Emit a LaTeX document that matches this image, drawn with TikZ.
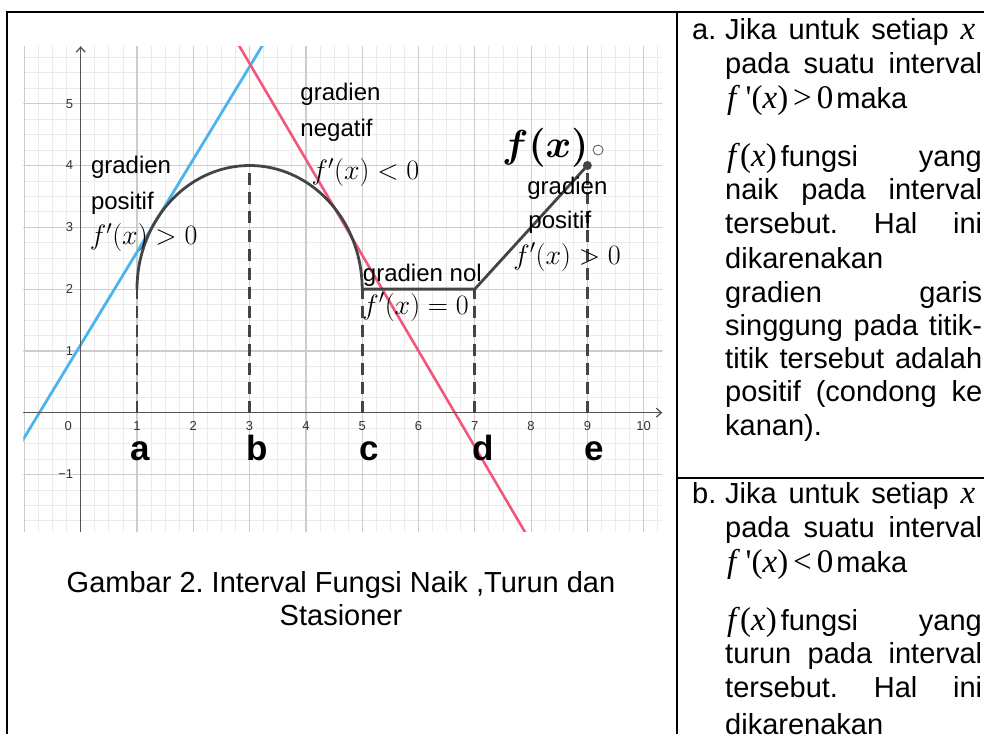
\RequirePackage{fix-cm}
\documentclass[tikz,border=0pt]{standalone}
\usepackage{bm}
\usepackage{fontspec}
\setmainfont{Liberation Sans}
\newfontfamily\tmsfont{Liberation Serif}
\usetikzlibrary{arrows.meta}
\frenchspacing

\definecolor{ggbBlue}{HTML}{4BB4EE}
\definecolor{ggbRed}{HTML}{F2577B}
\definecolor{curveGray}{HTML}{444444}
\definecolor{axisGray}{HTML}{555555}
\definecolor{gridMajorGray}{HTML}{CCCCCC}
\definecolor{gridMinorGray}{HTML}{EBEBEB}

% Word-style equation text (Times)
\newcommand{\wmath}[1]{{\fontsize{33}{34}\selectfont\tmsfont #1}}

\begin{document}
\begin{tikzpicture}[
        x=1pt, y=-1pt,
        tableLine/.style={black, line width=2pt},
        gridMinor/.style={gridMinorGray, line width=0.8pt},
        gridMajor/.style={gridMajorGray, line width=1.2pt},
        axisLine/.style={-{Straight Barb[length=5pt,width=9pt]}, axisGray, line width=1.3pt},
        tanPos/.style={ggbBlue, line width=2.8pt},
        tanNeg/.style={ggbRed, line width=2.6pt},
        curveLine/.style={curveGray, line width=2.8pt, line join=round},
        dropLine/.style={dashed, dash pattern=on 12pt off 7pt, curveGray, line width=2.8pt},
        tickLabel/.style={inner sep=0pt, text=black!80, font=\fontsize{13}{13}\selectfont},
        graphText/.style={anchor=west, inner sep=0pt, font=\fontsize{24}{24}\selectfont},
        graphMath/.style={anchor=west, inner sep=0pt, font=\fontsize{28}{28}\selectfont},
        pointName/.style={anchor=base, inner sep=0pt, font=\fontsize{35}{35}\selectfont\bfseries},
        bodyText/.style={anchor=base west, inner sep=0pt, font=\fontsize{29}{34}\selectfont},
        capText/.style={anchor=base, inner sep=0pt, font=\fontsize{29}{34}\selectfont}
    ]
        \useasboundingbox (0,0) rectangle (984,734);

        % Table frame
        \draw[tableLine] (7,734) -- (7,12) -- (984,12);
        \draw[tableLine] (677,12) -- (677,734);
        \draw[tableLine] (677,478) -- (984,478);

        % Graph in its own units
        \begin{scope}[shift={(80.7,412.7)}, x=56.3pt, y=61.8pt]
            \begin{scope}
                \clip (-1.02,-1.93) rectangle (10.33,5.93);
                \draw[gridMinor, step=0.25] (-1.5,-2.5) grid (11,6.5);
                \draw[gridMajor, step=1] (-1.5,-2.5) grid (11,6.5);

                % Tangent lines
                \draw[tanPos] (-1.2,-0.7) -- (3.4,6.2);
                \draw[tanNeg] (2.7,6.115) -- (8,-2.1);
            \end{scope}

            % Axes
            \draw[axisLine] (-1.02,0) -- (10.33,0);
            \draw[axisLine] (0,-1.93) -- (0,5.93);

            \foreach \i in {1,...,10}
                \node[tickLabel] (xt\i) at (\i,-0.215) {\i};
            \node[tickLabel] (xt0) at (-0.22,-0.215) {0};
            \foreach \i/\n in {-1/m1,1/1,2/2,3/3,4/4,5/5}
                \node[tickLabel, anchor=east] (yt\n) at (-0.13,\i) {\ifnum\i<0 −1\else\i\fi};

            % Function f(x)
            \coordinate (pA) at (1,2);
            \coordinate (pB) at (3,4);
            \coordinate (pC) at (5,2);
            \coordinate (pD) at (7,2);
            \coordinate (pE) at (9,4);
            \draw[curveLine] plot[domain=180:0, samples=80] ({3+2*cos(\x)},{2+2*sin(\x)}) -- (pD) -- (pE);

            % Dashed drops to the x-axis
            \foreach \p/\xv in {pA/1, pB/3, pC/5, pD/7, pE/9}
                \draw[dropLine] (\xv,0) -- (\p);

            \fill[curveGray] (pE) circle (4.5pt);
            \node[draw=axisGray, circle, line width=0.8pt, minimum size=10pt, inner sep=0pt] (fxMark) at (9.19,4.25) {};
            \node[inner sep=0pt, font=\fontsize{39}{39}\selectfont] (fxName) at (8.25,4.28) {$\bm{f(x)}$};

            % Gradient labels
            \node[graphText] (posLa) at (0.18,3.97) {gradien};
            \node[graphText] (posLb) at (0.18,3.39) {positif};
            \node[graphMath] (posLc) at (0.16,2.84) {$f'(x) > 0$};

            \node[graphText] (negLa) at (3.9,5.155) {gradien};
            \node[graphText] (negLb) at (3.9,4.57) {negatif};
            \node[graphMath] (negLc) at (4.1,3.89) {$f'(x) < 0$};

            \node[graphText] (nolLa) at (5.01,2.225) {gradien nol};
            \node[graphMath] (nolLb) at (5.0,1.71) {$f'(x) = 0$};

            \node[graphText] (posRa) at (7.93,3.63) {gradien};
            \node[graphText] (posRb) at (7.95,3.08) {positif};
            \node[graphMath] (posRc) at (7.68,2.52) {$f'(x) > 0$};

            % Interval points
            \foreach \s/\xv in {a/1.06, b/3.13, c/5.12, d/7.15, e/9.12}
                \node[pointName] (lbl\s) at (\xv,-0.77) {\s};
        \end{scope}

        % Caption
        \node[capText] (capA) at (341,592) {Gambar 2. Interval Fungsi Naik ,Turun dan};
        \node[capText] (capB) at (341,625) {Stasioner};

        % Right column, part a
        \node[bodyText] (aItem) at (692,39) {a.};
        \node[bodyText] (aL1) at (725,39) {\makebox[250pt][s]{Jika untuk setiap \wmath{\textit{x}}}};
        \node[bodyText] (aL2) at (725,73) {\makebox[257pt][s]{pada suatu interval}};
        \node[bodyText] (aL3) at (727,108) {\wmath{\textit{f}\,'(\textit{x})\hspace{5pt}>\hspace{5pt}0}\hspace{3pt}maka};
        \node[bodyText] (aL4) at (727,166) {\wmath{\textit{f}(\textit{x})}\hspace{4pt}fungsi};
        \node[bodyText, anchor=base east] (aL4b) at (982,166) {yang};
        \node[bodyText] (aL5) at (725,199) {\makebox[257pt][s]{naik pada interval}};
        \node[bodyText] (aL6) at (725,233) {\makebox[257pt][s]{tersebut. Hal ini}};
        \node[bodyText] (aL7) at (725,268) {dikarenakan};
        \node[bodyText] (aL8) at (725,302) {\makebox[257pt][s]{gradien garis}};
        \node[bodyText] (aL9) at (725,335) {\makebox[257pt][s]{singgung pada titik-}};
        \node[bodyText] (aL10) at (725,368) {\makebox[257pt][s]{titik tersebut adalah}};
        \node[bodyText] (aL11) at (725,401) {\makebox[257pt][s]{positif (condong ke}};
        \node[bodyText] (aL12) at (725,435) {kanan).};

        % Right column, part b
        \node[bodyText] (bItem) at (692,503) {b.};
        \node[bodyText] (bL1) at (725,503) {\makebox[250pt][s]{Jika untuk setiap \wmath{\textit{x}}}};
        \node[bodyText] (bL2) at (725,537) {\makebox[257pt][s]{pada suatu interval}};
        \node[bodyText] (bL3) at (727,572) {\wmath{\textit{f}\,'(\textit{x})\hspace{5pt}<\hspace{5pt}0}\hspace{3pt}maka};
        \node[bodyText] (bL4) at (727,630) {\wmath{\textit{f}(\textit{x})}\hspace{4pt}fungsi};
        \node[bodyText, anchor=base east] (bL4b) at (982,630) {yang};
        \node[bodyText] (bL5) at (725,663) {\makebox[257pt][s]{turun pada interval}};
        \node[bodyText] (bL6) at (725,697) {\makebox[257pt][s]{tersebut. Hal ini}};
        \node[bodyText] (bL7) at (725,734) {dikarenakan};

    \end{tikzpicture}
\end{document}
